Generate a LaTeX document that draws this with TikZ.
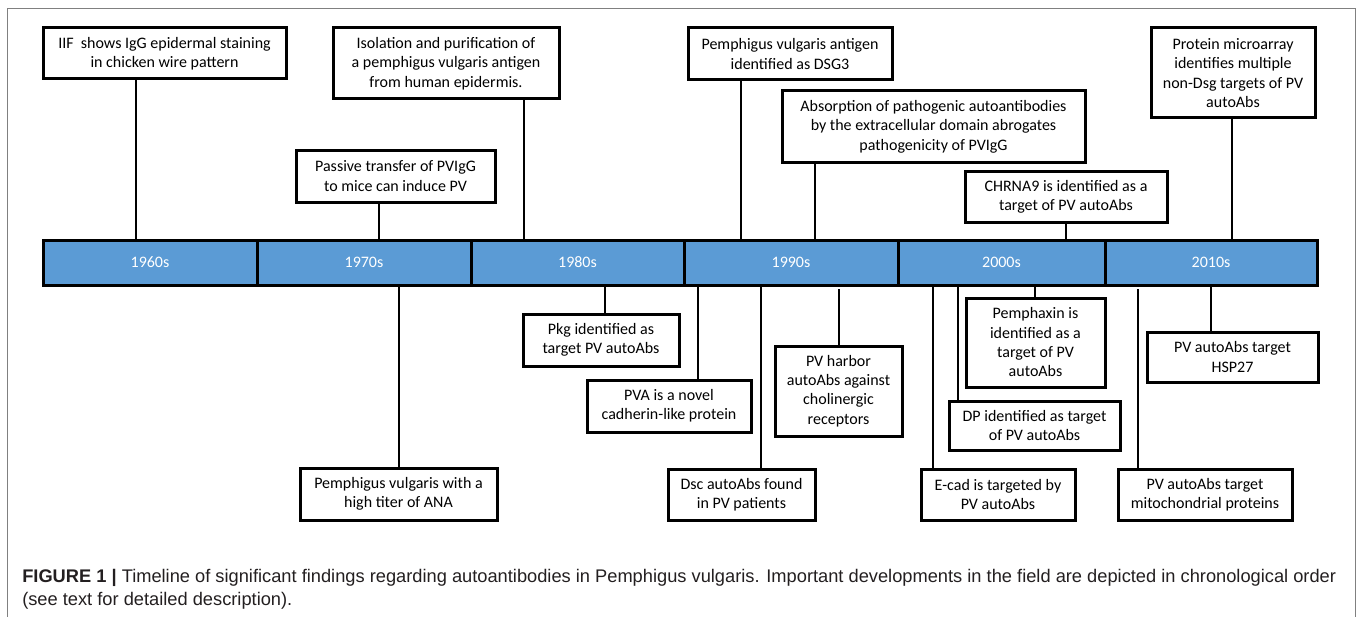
\documentclass[tikz,border=0pt]{standalone}
\usepackage{fontspec}
\setmainfont{Carlito}
\newfontfamily\capfont{Liberation Sans}
\definecolor{barblue}{HTML}{5B9BD5}
\definecolor{framegray}{HTML}{808080}
\definecolor{captext}{HTML}{231F20}
\begin{document}
\begin{tikzpicture}
  [x=0.75pt,y=-0.75pt,
   event/.style 2 args={draw,line width=2.25pt,fill=white,align=center,inner sep=0pt,
     minimum width=#1*0.75pt,minimum height=#2*0.75pt,font=\fontsize{12}{14.5}\selectfont},
   decade/.style={draw,line width=2.25pt,fill=barblue,text=white,inner sep=0pt,
     minimum width=#1*0.75pt,minimum height=45*0.75pt,font=\fontsize{12}{14.5}\selectfont},
   stem/.style={line width=1.9pt},
   caption/.style={anchor=base west,inner sep=0pt,text=captext,font=\capfont\fontsize{13.7}{16}\selectfont}]
  \useasboundingbox (0,0) rectangle (1357,617);
  \draw[framegray,line width=1.2pt] (7.5,617) -- (7.5,8.5) -- (1355.5,8.5) -- (1355.5,617);

  \node[decade=214] (d60) at (150,262.5) {1960s};
  \node[decade=214] (d70) at (364,262.5) {1970s};
  \node[decade=213] (d80) at (577.5,262.5) {1980s};
  \node[decade=214] (d90) at (791,262.5) {1990s};
  \node[decade=207] (d00) at (1001.5,262.5) {2000s};
  \node[decade=212] (d10) at (1211,262.5) {2010s};

  \node[event={243}{51}] (iif) at (164.5,53.5) {IIF~ shows IgG epidermal staining\\in chicken wire pattern};
  \node[event={226}{71}] (isol) at (446,63.5) {Isolation and purification of\\a pemphigus vulgaris antigen\\from human epidermis.};
  \node[event={199}{52}] (passive) at (395.5,176) {Passive transfer of PVIgG\\to mice can induce PV};
  \node[event={204}{52}] (dsg) at (790,54) {Pemphigus vulgaris antigen\\identified as DSG3};
  \node[event={303}{71}] (absorb) at (933.5,126.5) {Absorption of pathogenic autoantibodies\\by the extracellular domain abrogates\\pathogenicity of PVIgG};
  \node[event={202}{51}] (chrna) at (1066,196.5) {CHRNA9 is identified as a\\target of PV autoAbs};
  \node[event={164}{90}] (array) at (1233,73) {Protein microarray\\identifies multiple\\non-Dsg targets of PV\\autoAbs};

  \node[event={197}{52}] (ana) at (398.5,494) {Pemphigus vulgaris with a\\high titer of ANA};
  \node[event={156}{52}] (pkg) at (601,340) {Pkg identified as\\target PV autoAbs};
  \node[event={164}{52}] (pva) at (669,406) {PVA is a novel\\cadherin-like protein};
  \node[event={147}{51}] (dsc) at (741.5,494.5) {Dsc autoAbs found\\in PV patients};
  \node[event={127}{90}] (harbor) at (838.5,391) {PV harbor\\autoAbs against\\cholinergic\\receptors};
  \node[event={154}{51}] (ecad) at (998,494.5) {E-cad is targeted by\\PV autoAbs};
  \node[event={171}{49}] (dp) at (1034.5,425.5) {DP identified as target\\of PV autoAbs};
  \node[event={139}{89}] (pemph) at (1035.5,342.5) {Pemphaxin is\\identified as a\\target of PV\\autoAbs};
  \node[event={171}{50}] (hsp) at (1232.5,357) {PV autoAbs target\\HSP27};
  \node[event={174}{51}] (mito) at (1205,494.5) {PV autoAbs target\\mitochondrial proteins};

  \coordinate (t1) at (136,240);
  \coordinate (t2) at (524,240);
  \coordinate (t3) at (379,240);
  \coordinate (t4) at (741,240);
  \coordinate (t5) at (815,240);
  \coordinate (t6) at (1066,240);
  \coordinate (t7) at (1232,240);
  \coordinate (b1) at (399,285);
  \coordinate (b2) at (605,285);
  \coordinate (b3) at (698,285);
  \coordinate (b4) at (761,285);
  \coordinate (b5) at (839,289);
  \coordinate (b6) at (933,285);
  \coordinate (b7) at (958,285);
  \coordinate (b8) at (1035,285);
  \coordinate (b9) at (1211,285);
  \coordinate (b10) at (1138,289);

  \draw[stem] (t1) -- (t1 |- iif.south);
  \draw[stem] (t2) -- (t2 |- isol.south);
  \draw[stem] (t3) -- (t3 |- passive.south);
  \draw[stem] (t4) -- (t4 |- dsg.south);
  \draw[stem] (t5) -- (t5 |- absorb.south);
  \draw[stem] (t6) -- (t6 |- chrna.south);
  \draw[stem] (t7) -- (t7 |- array.south);
  \draw[stem] (b1) -- (b1 |- ana.north);
  \draw[stem] (b2) -- (b2 |- pkg.north);
  \draw[stem] (b3) -- (b3 |- pva.north);
  \draw[stem] (b4) -- (b4 |- dsc.north);
  \draw[stem] (b5) -- (b5 |- harbor.north);
  \draw[stem] (b6) -- (b6 |- ecad.north);
  \draw[stem] (b7) -- (b7 |- dp.north);
  \draw[stem] (b8) -- (b8 |- pemph.north);
  \draw[stem] (b9) -- (b9 |- hsp.north);
  \draw[stem] (b10) -- (b10 |- mito.north);

  \node[caption] (cap1) at (22,582) {\textbf{FIGURE 1 |} Timeline of significant findings regarding autoantibodies in Pemphigus vulgaris. Important developments in the field are depicted in chronological order};
  \node[caption] (cap2) at (22,605) {(see text for detailed description).};
\end{tikzpicture}
\end{document}
